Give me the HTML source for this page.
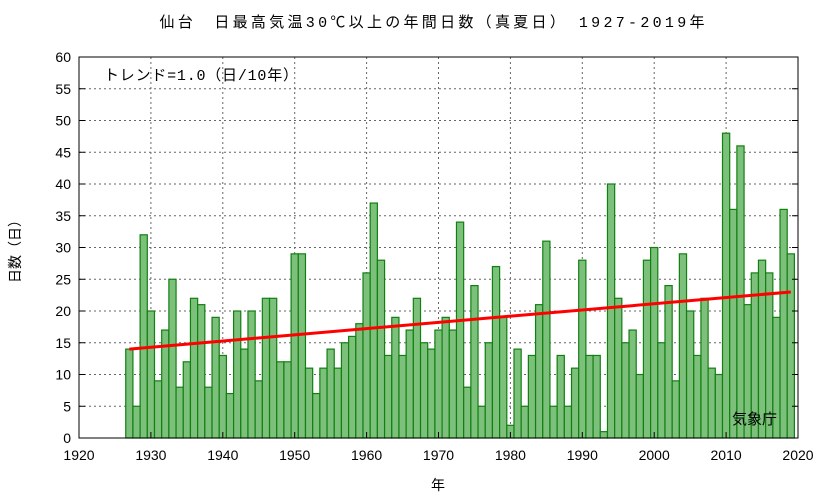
<!DOCTYPE html><html><head><meta charset="utf-8"><style>body{margin:0;background:#fff}svg{display:block}text{font-family:"Liberation Sans","Noto Sans CJK JP",sans-serif;font-size:14px;fill:#000}.m{font-family:"Liberation Mono","Noto Sans CJK JP",monospace;font-size:15px}</style></head><body>
<svg id="s" width="833" height="498" xmlns="http://www.w3.org/2000/svg"></svg>
<script>
const v=[14,5,32,20,9,17,25,8,12,22,21,8,19,13,7,20,14,20,9,22,22,12,12,29,29,11,7,11,14,11,15,16,18,26,37,28,13,19,13,17,22,15,14,17,19,17,34,8,24,5,15,27,19,2,14,5,13,21,31,5,13,5,11,28,13,13,1,40,22,15,17,10,28,30,15,24,9,29,20,13,22,11,10,48,36,46,21,26,28,26,19,36,29];
const L=79,R=798,T=57,B=438;const X=y=>L+(y-1920)*(R-L)/100,Y=d=>B-d*(B-T)/60;
let h='';
for(let d=5;d<60;d+=5)h+=`<line x1="${L}" x2="${R}" y1="${Y(d)}" y2="${Y(d)}" stroke="#666" stroke-dasharray="2,3"/>`;
for(let y=1930;y<2020;y+=10)h+=`<line x1="${X(y)}" x2="${X(y)}" y1="${T}" y2="${B}" stroke="#666" stroke-dasharray="2,3"/>`;
const w=(R-L)/100;
v.forEach((d,i)=>{const x=X(1927+i)-w/2;h+=`<rect x="${x}" y="${Y(d)}" width="${w}" height="${B-Y(d)}" fill="#7cc07c" stroke="#118011" stroke-width="1.2"/>`});
h+=`<line x1="${X(1927)}" y1="${Y(14)}" x2="${X(2019)}" y2="${Y(23)}" stroke="#f00" stroke-width="3"/>`;
h+=`<rect x="${L}" y="${T}" width="${R-L}" height="${B-T}" fill="none" stroke="#000"/>`;
for(let d=0;d<=60;d+=5){h+=`<line x1="${L}" x2="${L+6}" y1="${Y(d)}" y2="${Y(d)}" stroke="#000"/><line x1="${R-6}" x2="${R}" y1="${Y(d)}" y2="${Y(d)}" stroke="#000"/><text x="${L-8}" y="${Y(d)+5}" text-anchor="end">${d}</text>`}
for(let y=1920;y<=2020;y+=10){h+=`<line x1="${X(y)}" x2="${X(y)}" y1="${B}" y2="${B-6}" stroke="#000"/><text x="${X(y)}" y="${B+22}" text-anchor="middle">${y}</text>`}
h+=`<text class="m" x="432" y="27" text-anchor="middle" textLength="545">仙台　日最高気温30℃以上の年間日数（真夏日）　1927-2019年</text>`;
h+=`<text class="m" x="104" y="80" textLength="194">トレンド=1.0（日/10年）</text>`;
h+=`<text x="732" y="424" style="font-size:15px">気象庁</text>`;
h+=`<text x="438" y="490" text-anchor="middle">年</text>`;
h+=`<text transform="translate(20,248) rotate(-90)" text-anchor="middle">日数（日）</text>`;
document.getElementById('s').innerHTML=h;
</script></body></html>
